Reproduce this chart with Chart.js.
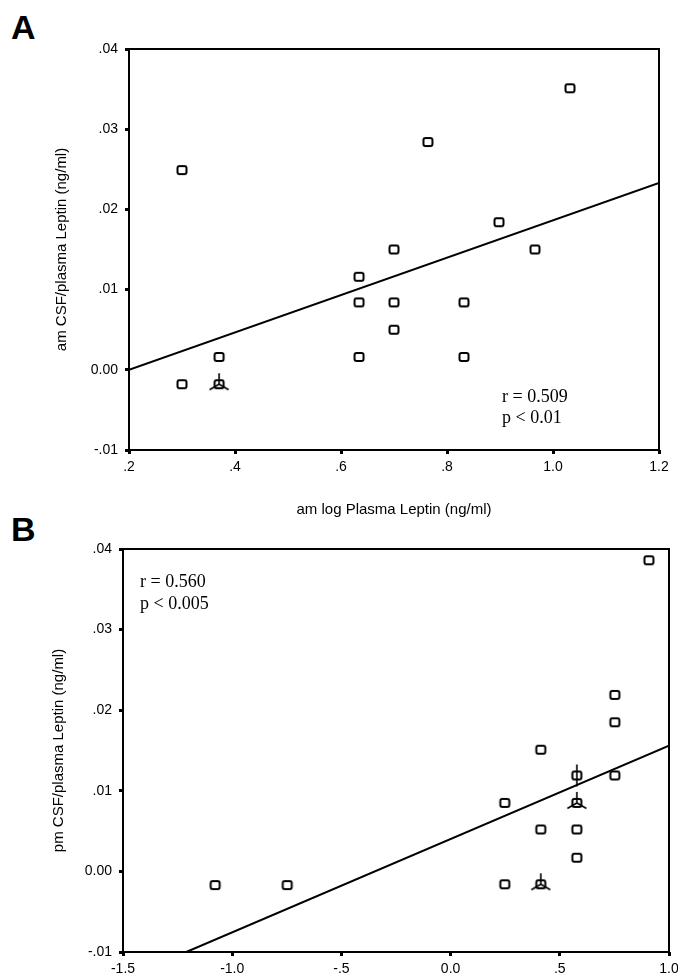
<!doctype html>
<html>
<head>
    <title>CSF/plasma Leptin vs log Plasma Leptin</title>
    <script src="https://cdn.jsdelivr.net/npm/chart.js"></script>
    <style>
        body { margin: 0; background: #fff; width: 678px; height: 976px; position: relative; overflow: hidden; }
        canvas { position: absolute; left: 0; }
        .letter { position: absolute; left: 11px; font: bold 34px "Liberation Sans", Arial, sans-serif; line-height: 34px; color: #000; }
    </style>
</head>
<body>
    <div class="letter" style="top:10px">A</div>
    <div class="letter" style="top:512px">B</div>
    <canvas id="chartA" width="678" height="525" style="top:0"></canvas>
    <canvas id="chartB" width="678" height="451" style="top:525px"></canvas>

    <script>
        // panel A - morning samples
        var amLogLeptin = [0.30, 0.30, 0.37, 0.37, 0.634, 0.634, 0.634, 0.70, 0.70, 0.70, 0.764, 0.832, 0.832, 0.898, 0.966, 1.032];
        var amRatio     = [0.0249, -0.0018, 0.0016, -0.0018, 0.0116, 0.0084, 0.0016, 0.0150, 0.0084, 0.0050, 0.0284, 0.0084, 0.0016, 0.0184, 0.0150, 0.0351];
        var amCount     = [1, 1, 1, 3, 1, 1, 1, 1, 1, 1, 1, 1, 1, 1, 1, 1];
        var amFitX = [0.2, 1.2];
        var amFitY = [0.0, 0.0233];
        var amXTicks = [0.2, 0.4, 0.6, 0.8, 1.0, 1.2];
        var amXLabels = ['.2', '.4', '.6', '.8', '1.0', '1.2'];

        // panel B - evening samples
        var pmLogLeptin = [-1.078, -0.748, 0.248, 0.248, 0.413, 0.413, 0.413, 0.578, 0.578, 0.578, 0.578, 0.752, 0.752, 0.752, 0.908];
        var pmRatio     = [-0.0017, -0.0017, 0.0085, -0.0016, 0.0151, 0.0052, -0.0016, 0.0119, 0.0085, 0.0052, 0.0017, 0.0219, 0.0185, 0.0119, 0.0386];
        var pmCount     = [1, 1, 1, 1, 1, 1, 3, 2, 3, 1, 1, 1, 1, 1, 1];
        var pmFitX = [-1.21, 1.0];
        var pmFitY = [-0.01, 0.0156];
        var pmXTicks = [-1.5, -1.0, -0.5, 0.0, 0.5, 1.0];
        var pmXLabels = ['-1.5', '-1.0', '-.5', '0.0', '.5', '1.0'];

        var yTicks = [-0.01, 0.0, 0.01, 0.02, 0.03, 0.04];
        var yLabels = ['-.01', '0.00', '.01', '.02', '.03', '.04'];

        var sans = '"Liberation Sans", Arial, sans-serif';
        var serif = '"Liberation Serif", "Times New Roman", serif';

        // open square marker, with sunflower petals when several cases overlap
        function makeMarker(n) {
            var c = document.createElement('canvas');
            c.width = 28; c.height = 28;
            var g = c.getContext('2d');
            g.strokeStyle = '#000';
            g.lineWidth = 2;
            g.beginPath();
            g.roundRect(9.5, 10, 9, 8, 2);
            g.stroke();
            g.lineWidth = 1.6;
            g.beginPath();
            if (n === 2) {
                g.moveTo(14, 3); g.lineTo(14, 25);
            } else if (n === 3) {
                var len = 11;
                [90, 210, 330].forEach(function (a) {
                    var r = a * Math.PI / 180;
                    g.moveTo(14, 14);
                    g.lineTo(14 + len * Math.cos(r), 14 - len * Math.sin(r));
                });
            }
            g.stroke();
            return c;
        }
        var markers = { 1: makeMarker(1), 2: makeMarker(2), 3: makeMarker(3) };

        var framePlugin = {
            id: 'frame',
            beforeDatasetsDraw: function (chart) {
                var a = chart.chartArea, g = chart.ctx;
                g.save();
                g.strokeStyle = '#000';
                g.lineWidth = 2;
                g.strokeRect(a.left, a.top, a.right - a.left, a.bottom - a.top);
                g.restore();
            }
        };

        var statsPlugin = {
            id: 'stats',
            afterDatasetsDraw: function (chart, args, opts) {
                var g = chart.ctx;
                var x = chart.scales.x.getPixelForValue(opts.x);
                g.save();
                g.fillStyle = '#000';
                g.font = '18px ' + serif;
                g.textBaseline = 'middle';
                opts.lines.forEach(function (t, i) {
                    g.fillText(t, x, chart.scales.y.getPixelForValue(opts.y[i]));
                });
                g.restore();
            }
        };

        function makeChart(id, xs, ys, counts, fitX, fitY, xTicks, xLabels, yTitle, xTitle, geo, stats) {
            var pts = xs.map(function (x, i) { return { x: x, y: ys[i] }; });
            var fit = fitX.map(function (x, i) { return { x: x, y: fitY[i] }; });
            return new Chart(document.getElementById(id), {
                type: 'scatter',
                data: {
                    datasets: [{
                        data: pts,
                        pointStyle: function (c) { return markers[counts[c.dataIndex]]; },
                        pointRadius: 5
                    }, {
                        type: 'line',
                        data: fit,
                        borderColor: '#000',
                        borderWidth: 2,
                        pointRadius: 0,
                        fill: false
                    }]
                },
                options: {
                    responsive: false,
                    animation: false,
                    devicePixelRatio: 1,
                    layout: { padding: { top: geo.top, right: geo.right, left: 0, bottom: 0 } },
                    plugins: { legend: { display: false }, tooltip: { enabled: false }, stats: stats },
                    scales: {
                        x: {
                            type: 'linear',
                            min: xTicks[0],
                            max: xTicks[xTicks.length - 1],
                            afterFit: function (s) { s.height = geo.xh; s.paddingLeft = 0; s.paddingRight = 0; },
                            afterBuildTicks: function (s) { s.ticks = xTicks.map(function (v) { return { value: v }; }); },
                            border: { display: false },
                            grid: { drawOnChartArea: false, drawTicks: true, tickLength: 4, tickWidth: 3, tickColor: '#000' },
                            ticks: {
                                color: '#000', padding: 5, maxRotation: 0, autoSkip: false,
                                font: { family: sans, size: 14 },
                                callback: function (v, i) { return xLabels[i]; }
                            },
                            title: {
                                display: !!xTitle, text: xTitle, color: '#000',
                                font: { family: sans, size: 15 }, padding: { bottom: 6 }
                            }
                        },
                        y: {
                            type: 'linear',
                            min: -0.01,
                            max: 0.04,
                            afterFit: function (s) { s.width = geo.yw; s.paddingTop = 0; s.paddingBottom = 0; },
                            afterBuildTicks: function (s) { s.ticks = yTicks.map(function (v) { return { value: v }; }); },
                            border: { display: false },
                            grid: { drawOnChartArea: false, drawTicks: true, tickLength: 4, tickWidth: 3, tickColor: '#000' },
                            ticks: {
                                color: '#000', padding: 7, autoSkip: false,
                                font: { family: sans, size: 14 },
                                callback: function (v, i) { return yLabels[i]; }
                            },
                            title: {
                                display: true, text: yTitle, color: '#000',
                                font: { family: sans, size: 15 }, padding: { top: geo.titlePad }
                            }
                        }
                    }
                },
                plugins: [framePlugin, statsPlugin]
            });
        }

        makeChart('chartA', amLogLeptin, amRatio, amCount, amFitX, amFitY, amXTicks, amXLabels,
            'am CSF/plasma Leptin (ng/ml)', 'am log Plasma Leptin (ng/ml)',
            { top: 49, right: 19, xh: 75, yw: 129, titlePad: 53 },
            { x: 0.904, y: [-0.0034, -0.0060], lines: ['r = 0.509', 'p < 0.01'] });

        makeChart('chartB', pmLogLeptin, pmRatio, pmCount, pmFitX, pmFitY, pmXTicks, pmXLabels,
            'pm CSF/plasma Leptin (ng/ml)', '',
            { top: 24, right: 9, xh: 24, yw: 123, titlePad: 50 },
            { x: -1.422, y: [0.0359, 0.0331], lines: ['r = 0.560', 'p < 0.005'] });
    </script>
</body>
</html>
